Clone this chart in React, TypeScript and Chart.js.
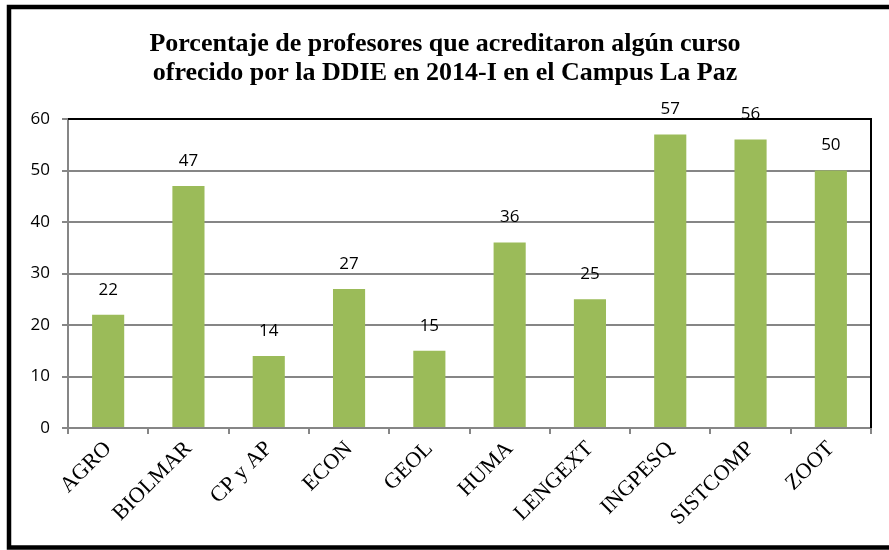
import React, { useEffect, useRef } from "react";
import { Chart, registerables } from "chart.js";

Chart.register(...registerables);

const categories = ["AGRO", "BIOLMAR", "CP y AP", "ECON", "GEOL", "HUMA", "LENGEXT", "INGPESQ", "SISTCOMP", "ZOOT"];
const values = [22, 47, 14, 27, 15, 36, 25, 57, 56, 50];
const titleLines = [
  "Porcentaje de profesores que acreditaron algún curso",
  "ofrecido por la DDIE en 2014-I en el Campus La Paz",
];
const yTicks = { min: 0, max: 60, step: 10 };

const BAR_COLOR = "#9BBB59";
const GRID_COLOR = "#868686";
const SANS = "'Open Sans', sans-serif";
const SERIF = "'Liberation Serif', 'Times New Roman', serif";

export default function App() {
  const ref = useRef<HTMLCanvasElement | null>(null);

  useEffect(() => {
    document.body.style.margin = "0";
    const canvas = ref.current;
    if (!canvas) return;

    const decor = {
      id: "decor",
      beforeDraw(chart: any) {
        const ctx = chart.ctx;
        ctx.save();
        ctx.fillStyle = "#ffffff";
        ctx.fillRect(0, 0, chart.width, chart.height);
        ctx.restore();
      },
      afterDraw(chart: any) {
        const ctx = chart.ctx;
        const { left, right, top, bottom } = chart.chartArea;
        ctx.save();
        // plot frame top & right (black)
        ctx.strokeStyle = "#000000";
        ctx.lineWidth = 2;
        ctx.beginPath();
        ctx.moveTo(left, top);
        ctx.lineTo(right, top);
        ctx.lineTo(right, bottom);
        ctx.stroke();
        // outer border
        ctx.lineWidth = 4.5;
        ctx.beginPath();
        ctx.moveTo(chart.width + 10, 7);
        ctx.lineTo(9, 7);
        ctx.lineTo(9, 547.5);
        ctx.lineTo(chart.width + 10, 547.5);
        ctx.stroke();
        // title
        ctx.fillStyle = "#000000";
        ctx.font = `bold 26px ${SERIF}`;
        ctx.textAlign = "center";
        ctx.textBaseline = "alphabetic";
        titleLines.forEach((line, i) => {
          ctx.fillText(line, 445, 51 + i * 29);
        });
        // value labels
        const meta = chart.getDatasetMeta(0);
        ctx.font = `17px ${SANS}`;
        ctx.textBaseline = "middle";
        meta.data.forEach((bar: any, i: number) => {
          const v = chart.data.datasets[0].data[i];
          ctx.fillText(String(v), bar.x, bar.y - 25);
        });
        ctx.restore();
      },
    };

    const chart = new Chart(canvas, {
      type: "bar",
      data: {
        labels: categories,
        datasets: [
          {
            data: values,
            backgroundColor: BAR_COLOR,
            borderWidth: 0,
            barPercentage: 0.4,
            categoryPercentage: 1,
          },
        ],
      },
      options: {
        responsive: false,
        animation: false,
        devicePixelRatio: 1,
        layout: { padding: { top: 119, right: 18, bottom: 0, left: 0 } },
        plugins: {
          legend: { display: false },
          title: { display: false },
          tooltip: { enabled: false },
        },
        scales: {
          x: {
            afterFit: (s: any) => {
              s.height = 122;
            },
            grid: {
              offset: true,
              drawOnChartArea: false,
              color: GRID_COLOR,
              lineWidth: 2,
              tickLength: 6,
            },
            border: { color: GRID_COLOR, width: 2 },
            ticks: {
              minRotation: 45,
              maxRotation: 45,
              autoSkip: false,
              color: "#000000",
              font: { family: SERIF, size: 22 },
              padding: 2,
            },
          },
          y: {
            min: yTicks.min,
            max: yTicks.max,
            afterFit: (s: any) => {
              s.width = 68;
            },
            grid: {
              color: GRID_COLOR,
              lineWidth: 2,
              tickLength: 6,
            },
            border: { color: GRID_COLOR, width: 2 },
            ticks: {
              stepSize: yTicks.step,
              color: "#000000",
              font: { family: SANS, size: 17 },
              padding: 12,
            },
          },
        },
      },
      plugins: [decor],
    });

    return () => chart.destroy();
  }, []);

  return (
    <div style={{ width: 889, height: 550 }}>
      <canvas ref={ref} width={889} height={550} style={{ display: "block" }} />
    </div>
  );
}
